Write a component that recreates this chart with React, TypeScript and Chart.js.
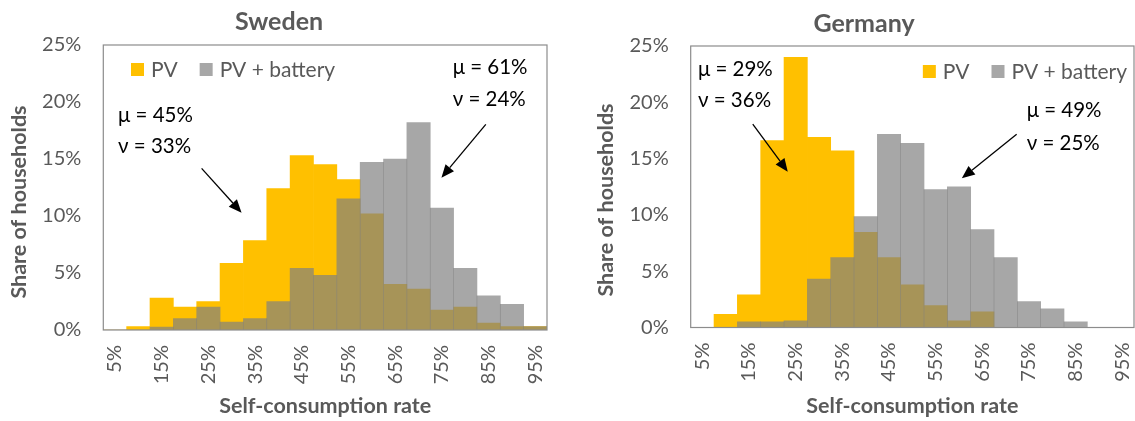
import React, { useEffect, useRef } from 'react';
import { Chart, registerables } from 'chart.js';

Chart.register(...registerables);

// ---------- data ----------
const categories = ['5%', '10%', '15%', '20%', '25%', '30%', '35%', '40%', '45%', '50%', '55%', '60%', '65%', '70%', '75%', '80%', '85%', '90%', '95%'];
const seriesNames = ['PV', 'PV + battery'];
const swedenPV = [0, 0.3, 2.8, 2.0, 2.5, 5.85, 7.85, 12.4, 15.3, 14.5, 13.2, 10.2, 4.0, 3.6, 1.75, 2.0, 0.6, 0.3, 0.3];
const swedenBattery = [0, 0, 0.25, 1.0, 2.0, 0.7, 1.0, 2.5, 5.4, 4.8, 11.5, 14.7, 15.0, 18.2, 10.7, 5.4, 3.0, 2.25, 0.3];
const germanyPV = [0, 1.16, 2.9, 16.6, 24.0, 16.9, 15.7, 8.45, 6.2, 3.8, 1.95, 0.6, 1.4, 0, 0, 0, 0, 0, 0];
const germanyBattery = [0, 0, 0.5, 0.5, 0.6, 4.3, 6.2, 9.85, 17.15, 16.35, 12.25, 12.5, 8.7, 6.2, 2.3, 1.65, 0.5, 0, 0];
const yTickValues = [0, 5, 10, 15, 20, 25];

// annotations in data space (x: category index, y: percent)
const swedenNotes = [
  { type: 'text', x: 0.13, y: 18.8, text: 'μ = 45%' },
  { type: 'text', x: 0.13, y: 16.1, text: 'ν = 33%' },
  { type: 'arrow', x1: 3.71, y1: 14.18, x2: 5.42, y2: 10.29 },
  { type: 'text', x: 14.46, y: 23.0, text: 'μ = 61%' },
  { type: 'text', x: 14.46, y: 20.2, text: 'ν = 24%' },
  { type: 'arrow', x1: 15.88, y1: 18.04, x2: 13.98, y2: 13.36 },
];
const germanyNotes = [
  { type: 'text', x: -0.19, y: 22.96, text: 'μ = 29%' },
  { type: 'text', x: -0.19, y: 20.14, text: 'ν = 36%' },
  { type: 'arrow', x1: 2.16, y1: 18.07, x2: 3.66, y2: 13.84 },
  { type: 'text', x: 13.9, y: 19.25, text: 'μ = 49%' },
  { type: 'text', x: 13.9, y: 16.36, text: 'ν = 25%' },
  { type: 'arrow', x1: 13.47, y1: 17.16, x2: 11.12, y2: 13.25 },
];

// ---------- styles ----------
const H = 421;
const FONT = 'Lato, "Open Sans", "DejaVu Sans", sans-serif';
const TEXT = '#595959';
const PV_COLOR = '#FFC000';
const BAT_COLOR = 'rgba(127,127,127,0.69)';
const FRAME = '#8c8c8c';
const TITLE_SIZE = 25;
const AXIS_TITLE_SIZE = 21.5;
const TICK_SIZE = 20;
const LEGEND_SIZE = 21;
const NOTE_SIZE = 20.5;

const panels = [
  {
    key: 'se', title: 'Sweden', pv: swedenPV, bat: swedenBattery, notes: swedenNotes,
    left: 11, width: 537, plotLeft: 92.3, plotTop: 45, plotBottom: 330, titleY: 21.5,
    yTitleX: 8.5, yTitleY: 202, legendAlign: 'start', legendOffset: 27.7, legendY: 24.5,
  },
  {
    key: 'de', title: 'Germany', pv: germanyPV, bat: germanyBattery, notes: germanyNotes,
    left: 594, width: 541, plotLeft: 96.7, plotTop: 46, plotBottom: 327.5, titleY: 23.5,
    yTitleX: 11.8, yTitleY: 200, legendAlign: 'end', legendOffset: 7, legendY: 25.5,
  },
];

const overlayPlugin = {
  id: 'overlay',
  afterDatasetsDraw(chart: any, _args: any, opts: any) {
    const { ctx, chartArea } = chart;
    const xs = chart.scales.x;
    const ys = chart.scales.y;
    ctx.save();
    // frame
    ctx.strokeStyle = FRAME;
    ctx.lineWidth = 1.2;
    ctx.strokeRect(chartArea.left, chartArea.top, chartArea.right - chartArea.left, chartArea.bottom - chartArea.top);

    // legend
    ctx.font = `${LEGEND_SIZE}px ${FONT}`;
    ctx.textBaseline = 'middle';
    ctx.textAlign = 'left';
    const box = 13, gapText = 7, gapItem = 22;
    const items = chart.data.datasets.map((d: any) => ({ label: d.label, color: d.backgroundColor, w: ctx.measureText(d.label).width }));
    const total = items.reduce((s: number, it: any, i: number) => s + box + gapText + it.w + (i > 0 ? gapItem : 0), 0);
    let lx = opts.legendAlign === 'start' ? chartArea.left + opts.legendOffset : chartArea.right - opts.legendOffset - total;
    const ly = chartArea.top + opts.legendY;
    items.forEach((it: any) => {
      ctx.fillStyle = it.color;
      ctx.fillRect(lx, ly - box / 2, box, box);
      ctx.fillStyle = TEXT;
      ctx.fillText(it.label, lx + box + gapText, ly + 1);
      lx += box + gapText + it.w + gapItem;
    });

    // annotations
    ctx.font = `${NOTE_SIZE}px ${FONT}`;
    ctx.fillStyle = '#000';
    ctx.strokeStyle = '#000';
    (opts.notes || []).forEach((n: any) => {
      if (n.type === 'text') {
        ctx.fillText(n.text, xs.getPixelForValue(n.x), ys.getPixelForValue(n.y));
      } else {
        const x1 = xs.getPixelForValue(n.x1), y1 = ys.getPixelForValue(n.y1);
        const x2 = xs.getPixelForValue(n.x2), y2 = ys.getPixelForValue(n.y2);
        const ang = Math.atan2(y2 - y1, x2 - x1);
        const L = 13, W = 5.5;
        const bx = x2 - L * Math.cos(ang), by = y2 - L * Math.sin(ang);
        ctx.lineWidth = 1.3;
        ctx.beginPath();
        ctx.moveTo(x1, y1);
        ctx.lineTo(bx, by);
        ctx.stroke();
        ctx.beginPath();
        ctx.moveTo(x2, y2);
        ctx.lineTo(bx + W * Math.sin(ang), by - W * Math.cos(ang));
        ctx.lineTo(bx - W * Math.sin(ang), by + W * Math.cos(ang));
        ctx.closePath();
        ctx.fill();
      }
    });

    // y axis title
    ctx.font = `bold ${AXIS_TITLE_SIZE}px ${FONT}`;
    ctx.fillStyle = TEXT;
    ctx.textAlign = 'center';
    ctx.translate(opts.yTitleX, opts.yTitleY);
    ctx.rotate(-Math.PI / 2);
    ctx.fillText(opts.yTitle, 0, 0);
    ctx.restore();
  },
};

function Panel({ cfg }: { cfg: any }) {
  const ref = useRef<HTMLCanvasElement>(null);
  useEffect(() => {
    const lh = TITLE_SIZE * 1.2;
    const chart = new Chart(ref.current as HTMLCanvasElement, {
      type: 'bar',
      data: {
        labels: categories,
        datasets: [
          { label: seriesNames[0], data: cfg.pv, backgroundColor: PV_COLOR, order: 2, grouped: false, barPercentage: 1, categoryPercentage: 1, borderWidth: 0 } as any,
          { label: seriesNames[1], data: cfg.bat, backgroundColor: BAT_COLOR, order: 1, grouped: false, barPercentage: 1, categoryPercentage: 1, borderWidth: 0 } as any,
        ],
      },
      options: {
        animation: false,
        responsive: true,
        maintainAspectRatio: false,
        layout: { padding: { left: 0, right: 1, top: 0, bottom: 0 } },
        plugins: {
          legend: { display: false },
          tooltip: { enabled: false },
          title: {
            display: true,
            text: cfg.title,
            color: TEXT,
            font: { family: FONT, size: TITLE_SIZE, weight: 'bold', lineHeight: 1.2 },
            padding: { top: cfg.titleY - lh / 2, bottom: cfg.plotTop - cfg.titleY - lh / 2 },
          },
          overlay: {
            notes: cfg.notes,
            legendAlign: cfg.legendAlign,
            legendOffset: cfg.legendOffset,
            legendY: cfg.legendY,
            yTitle: 'Share of households',
            yTitleX: cfg.yTitleX,
            yTitleY: cfg.yTitleY,
          },
        } as any,
        scales: {
          x: {
            grid: { display: false, drawTicks: false },
            border: { display: false },
            ticks: {
              autoSkip: false,
              maxRotation: 90,
              minRotation: 90,
              padding: 15,
              color: TEXT,
              font: { family: FONT, size: TICK_SIZE },
              callback: (_v: any, i: number) => (i % 2 === 0 ? categories[i] : ''),
            },
            title: {
              display: true,
              text: 'Self-consumption rate',
              color: TEXT,
              font: { family: FONT, size: AXIS_TITLE_SIZE, weight: 'bold', lineHeight: 1.2 },
              padding: { top: 0, bottom: 2 },
            },
            afterFit: (s: any) => {
              s.height = H - cfg.plotBottom;
              s.paddingLeft = 0;
              s.paddingRight = 0;
            },
          },
          y: {
            min: 0,
            max: 25,
            afterBuildTicks: (s: any) => {
              s.ticks = yTickValues.map((v) => ({ value: v }));
            },
            grid: { display: false, drawTicks: false },
            border: { display: false },
            ticks: {
              padding: 22,
              color: TEXT,
              font: { family: FONT, size: TICK_SIZE },
              callback: (v: any) => v + '%',
            },
            afterFit: (s: any) => {
              s.width = cfg.plotLeft;
              s.paddingTop = 0;
              s.paddingBottom = 0;
            },
          },
        },
      },
      plugins: [overlayPlugin],
    });
    return () => chart.destroy();
  }, [cfg]);
  return (
    <div style={{ position: 'absolute', left: cfg.left, top: 0, width: cfg.width, height: H }}>
      <canvas ref={ref} />
    </div>
  );
}

export default function App() {
  return (
    <div style={{ position: 'fixed', left: 0, top: 0, width: 1135, height: H, background: '#fff' }}>
      {panels.map((p) => (
        <Panel key={p.key} cfg={p} />
      ))}
    </div>
  );
}
